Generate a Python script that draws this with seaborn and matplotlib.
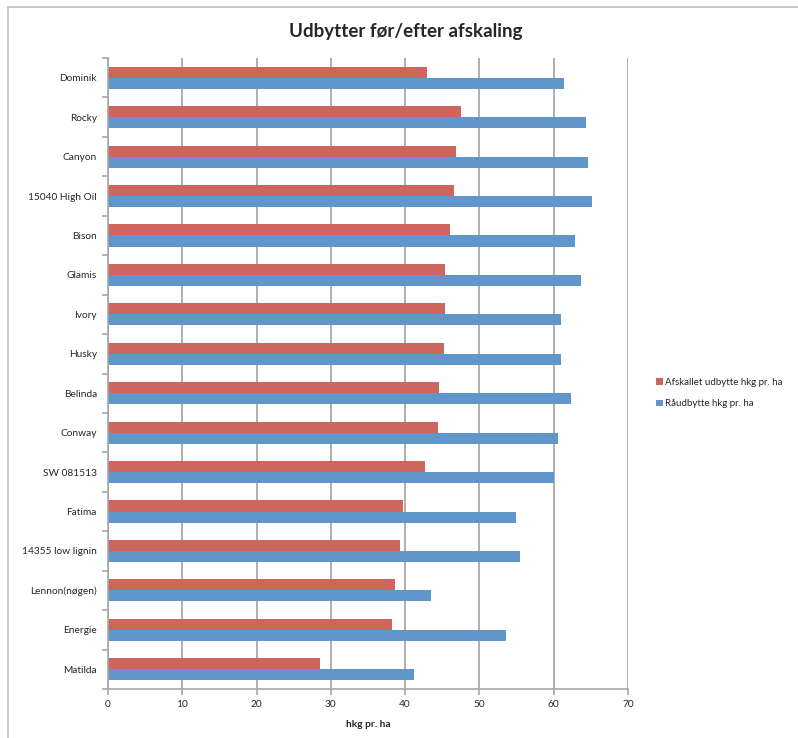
import matplotlib
matplotlib.use('Agg')
import matplotlib.pyplot as plt
import pandas as pd
import seaborn as sns
from matplotlib.patches import Rectangle

# sorter, top to bottom as in the chart
sorter = ['Dominik', 'Rocky', 'Canyon', '15040 High Oil', 'Bison', 'Glamis',
          'Ivory', 'Husky', 'Belinda', 'Conway', 'SW 081513', 'Fatima',
          '14355 low lignin', 'Lennon(nøgen)', 'Energie', 'Matilda']
afskallet = [43.0, 47.5, 46.8, 46.6, 46.1, 45.4, 45.4, 45.2, 44.6, 44.4,
             42.7, 39.7, 39.3, 38.6, 38.2, 28.6]
raa = [61.4, 64.3, 64.6, 65.2, 62.9, 63.7, 61.0, 61.0, 62.3, 60.6,
       60.0, 54.9, 55.4, 43.5, 53.6, 41.2]
series = ['Afskallet udbytte hkg pr. ha', 'Råudbytte hkg pr. ha']
colors = ['#CC665F', '#6196CB']

df = pd.DataFrame({
    'sort': sorter * 2,
    'udbytte': afskallet + raa,
    'serie': [series[0]] * len(sorter) + [series[1]] * len(sorter),
})

sns.set_style('white')
plt.rcParams['font.family'] = ['Lato', 'DejaVu Sans']

fig = plt.figure(figsize=(7.98, 7.38), dpi=100)
ax = fig.add_axes([108 / 798, 1 - 689 / 738, 520 / 798, 631 / 738])

sns.barplot(data=df, x='udbytte', y='sort', hue='serie', order=sorter,
            hue_order=series, palette=colors, orient='h', width=0.56,
            saturation=1, linewidth=0, ax=ax, legend=True)

ax.set_xlim(0, 70)
ax.set_ylim(len(sorter) - 0.5, -0.5)
ax.set_xticks(range(0, 71, 10))
ax.xaxis.grid(True, color='#A8A8A8', linewidth=1.3)
ax.set_axisbelow(True)
for side in ['top', 'right']:
    ax.spines[side].set_visible(False)
for side in ['left', 'bottom']:
    ax.spines[side].set_color('#A8A8A8')
    ax.spines[side].set_linewidth(1.2)

# category separator ticks on the y axis
ax.set_yticks([i + 0.5 for i in range(-1, len(sorter))], minor=True)
ax.tick_params(axis='y', which='major', length=0, pad=8, labelsize=7.3)
ax.tick_params(axis='y', which='minor', left=True, length=4, color='#A8A8A8', width=1.2)
ax.tick_params(axis='x', bottom=True, length=4, color='#A8A8A8', width=1.2,
               labelsize=7.3, pad=4)
ax.set_ylabel('')
ax.set_xlabel('hkg pr. ha', fontsize=7.3, fontweight='bold', labelpad=8)

ax.get_legend().remove()
handles, labels = ax.get_legend_handles_labels()
fig.legend(handles[:2], labels[:2], loc='center left',
           bbox_to_anchor=(647 / 798, 1 - 393 / 738), frameon=False,
           fontsize=7, handlelength=0.7, handleheight=0.7, handletextpad=0.3,
           labelspacing=1.3)

fig.suptitle('Udbytter før/efter afskaling', x=406 / 798,
             y=1 - 32 / 738, va='center', fontsize=13.5, fontweight='bold')

# chart frame (only left and top edges fall inside the picture)
fig.patches.append(Rectangle((8 / 798, -0.1), 1.2, 1 - 7 / 738 + 0.1,
                             transform=fig.transFigure, fill=False,
                             edgecolor='#BDBDBD', linewidth=1.2))

fig.savefig('out.png', dpi=100)
